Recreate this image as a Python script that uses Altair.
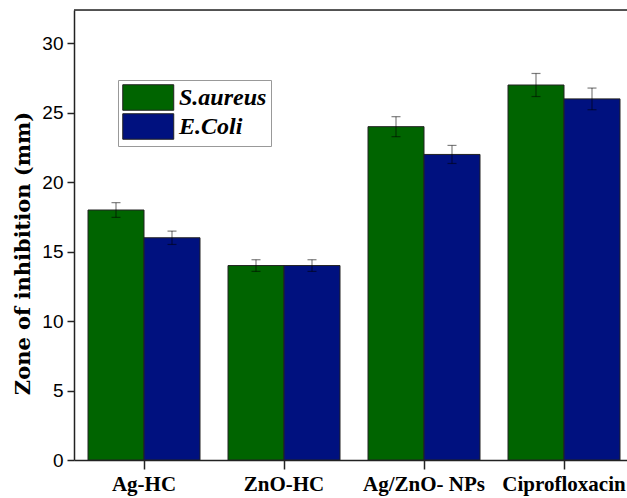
import altair as alt
import pandas as pd

categories = ["Ag-HC", "ZnO-HC", "Ag/ZnO- NPs", "Ciprofloxacin"]
series = ["S.aureus", "E.Coli"]
s_aureus = [18.0, 14.0, 24.0, 27.0]
e_coli = [16.0, 14.0, 22.0, 26.0]
s_aureus_err = [0.53, 0.42, 0.72, 0.83]
e_coli_err = [0.48, 0.42, 0.65, 0.78]
colors = ["#006400", "#00117f"]

rows = []
for i, c in enumerate(categories):
    for s, vals, errs in ((series[0], s_aureus, s_aureus_err), (series[1], e_coli, e_coli_err)):
        rows.append({"cat": c, "series": s, "value": vals[i],
                     "lo": vals[i] - errs[i], "hi": vals[i] + errs[i]})
df = pd.DataFrame(rows)

W, H = 553, 450
xscale = alt.Scale(domain=categories, range=[0, 560], paddingInner=0.2, paddingOuter=0.1)
yscale = alt.Scale(domain=[0, 32.4], nice=False, zero=True)
x_enc = alt.X("cat:N", sort=categories, scale=xscale, title=None,
              axis=alt.Axis(labelAngle=0, labelFont="Liberation Serif", labelFontWeight="bold",
                            labelFontSize=21, labelColor="black", tickSize=9, tickColor="#222",
                            domainColor="#222", domainWidth=1.5, tickWidth=1.5,
                            labelPadding=4))
xoff = alt.XOffset("series:N", sort=series, scale=alt.Scale(domain=series, paddingInner=0, paddingOuter=0))

bars = alt.Chart(df).mark_bar(stroke="#222", strokeWidth=1).encode(
    x=x_enc,
    xOffset=xoff,
    y=alt.Y("value:Q", scale=yscale, title="Zone of inhibition (mm)",
            axis=alt.Axis(values=[0, 5, 10, 15, 20, 25, 30], grid=False,
                          labelFont="Liberation Sans", labelFontSize=19, labelColor="black",
                          tickSize=7, tickColor="#222", tickWidth=1.5, domainColor="#222",
                          domainWidth=1.5, labelPadding=4,
                          titleFont="DejaVu Serif", titleFontWeight="bold",
                          titleFontSize=21, titleColor="black", titlePadding=8,
                          titleY=243)),
    color=alt.Color("series:N", sort=series,
                    scale=alt.Scale(domain=series, range=colors),
                    legend=alt.Legend(title=None, orient="none", legendX=44, legendY=70,
                                      symbolType="M-1,-1H3V1H-1Z", symbolSize=650,
                                      symbolStrokeColor="#222", symbolStrokeWidth=1,
                                      symbolOpacity=1,
                                      labelFont="Liberation Serif", labelFontStyle="italic",
                                      labelFontWeight="bold", labelFontSize=24, labelColor="black",
                                      labelOffset=30, rowPadding=-3, padding=4,
                                      strokeColor="#999", fillColor="white")),
)

err_rule = alt.Chart(df).mark_rule(color="black", opacity=0.5, strokeWidth=1.2).encode(
    x=alt.X("cat:N", sort=categories, scale=xscale),
    xOffset=xoff,
    y=alt.Y("lo:Q", scale=yscale),
    y2="hi:Q",
)
err_hi = alt.Chart(df).mark_tick(color="black", opacity=0.5, size=9, thickness=1.2).encode(
    x=alt.X("cat:N", sort=categories, scale=xscale),
    xOffset=xoff,
    y=alt.Y("hi:Q", scale=yscale),
)
err_lo = alt.Chart(df).mark_tick(color="black", opacity=0.5, size=9, thickness=1.2).encode(
    x=alt.X("cat:N", sort=categories, scale=xscale),
    xOffset=xoff,
    y=alt.Y("lo:Q", scale=yscale),
)
top_line = alt.Chart(pd.DataFrame({"top": [32.4]})).mark_rule(color="#222", strokeWidth=1.5).encode(
    y=alt.Y("top:Q", scale=yscale),
    x=alt.value(0), x2=alt.value(W),
)

chart = alt.layer(bars, err_rule, err_hi, err_lo, top_line).properties(
    width=W, height=H,
    autosize=alt.AutoSizeParams(type="none"),
    padding={"left": 74, "top": 10, "right": 0, "bottom": 38},
).configure_view(stroke=None).configure(background="white")

chart.save("out.html", embed_options={"renderer": "svg", "actions": False})
